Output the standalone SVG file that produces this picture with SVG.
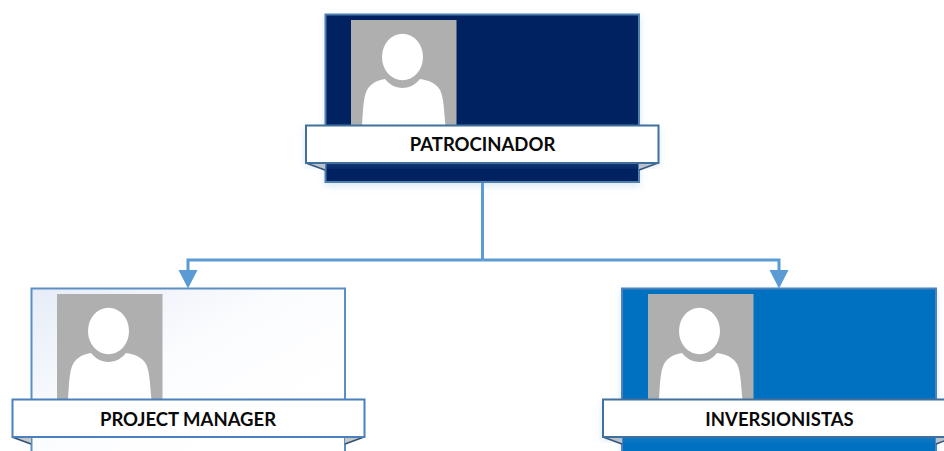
<svg xmlns="http://www.w3.org/2000/svg" width="944" height="451" viewBox="0 0 944 451">
<style>
.card{stroke-width:2}
.banner{fill:#fff;stroke-width:2}
.fold{fill:#c9c9c9;stroke:none}
.crease{stroke:#2f4f75;stroke-width:1.500;fill:none}
.label{font-family:"Lato","Liberation Sans",sans-serif;font-weight:700;font-size:18.500px;fill:#0a0a0a;text-anchor:middle}
.conn{fill:none;stroke:#5b9bd5;stroke-width:3}
</style>
<defs>
<linearGradient id="pale" x1="0" y1="0" x2="0.75" y2="0.75"><stop offset="0" stop-color="#e6ecf7"/><stop offset="0.55" stop-color="#fbfcfe"/><stop offset="1" stop-color="#fff"/></linearGradient>
<filter id="soft" x="-10%" y="-10%" width="120%" height="125%"><feDropShadow dx="0" dy="3" stdDeviation="3.500" flood-color="#5b9bd5" flood-opacity="0.220"/></filter>
<marker id="head" markerUnits="userSpaceOnUse" markerWidth="20" markerHeight="20" refX="3" refY="10" orient="auto"><path d="M0 0.500L18.500 10L0 19.500Z" fill="#5b9bd5"/></marker>
<g id="photo">
<rect width="105.500" height="105.500" fill="#afafaf"/>
<ellipse cx="51.500" cy="37" rx="20.500" ry="23.200" fill="#fff"/>
<path d="M11 105.500C12 92 12 78 16 70C20 63 27 60 34 59C38 64 44 68 51.500 68C59 68 65 64 69 59C77 60 85 63 89 70C93 78 93 92 94.500 105.500Z" fill="#fff"/>
</g>
</defs>
<g id="connectors">
<path class="conn" d="M482.500 182V260"/>
<path class="conn" d="M482.500 260H188V273" marker-end="url(#head)"/>
<path class="conn" d="M482.500 260H779V273" marker-end="url(#head)"/>
</g>
<g id="node-patrocinador">
<rect class="card" x="325.500" y="14.500" width="313.500" height="167.500" fill="#002060" stroke="#4f7fae" filter="url(#soft)"/>
<use href="#photo" x="351" y="20"/>
<path class="fold" d="M306 163L325 170V163Z"/><path class="crease" d="M306 163L325 170"/>
<path class="fold" d="M658 163L639 170V163Z"/><path class="crease" d="M658 163L639 170"/>
<rect class="banner" x="306" y="125.500" width="352.500" height="37.500" stroke="#41719c" filter="url(#soft)"/>
<text class="label" x="482.500" y="151">PATROCINADOR</text>
</g>
<g id="node-project-manager">
<rect class="card" x="31.500" y="288.500" width="313.500" height="180" fill="url(#pale)" stroke="#5b8fc5"/>
<use href="#photo" x="57" y="294"/>
<path class="fold" d="M12 437L31 444V437Z"/><path class="crease" d="M12 437L31 444"/>
<path class="fold" d="M364 437L345 444V437Z"/><path class="crease" d="M364 437L345 444"/>
<rect class="banner" x="12.500" y="399.500" width="352" height="37.500" stroke="#4a80bd"/>
<text class="label" x="188" y="425.500">PROJECT MANAGER</text>
</g>
<g id="node-inversionistas">
<rect class="card" x="622" y="288.500" width="314" height="180" fill="#0070c0" stroke="#4f81bd" filter="url(#soft)"/>
<use href="#photo" x="648" y="294"/>
<path class="fold" d="M603 437L622 444V437Z"/><path class="crease" d="M603 437L622 444"/>
<path class="fold" d="M955 437L936 444V437Z"/><path class="crease" d="M955 437L936 444"/>
<rect class="banner" x="603" y="399.500" width="352" height="37.500" stroke="#41719c" filter="url(#soft)"/>
<text class="label" x="779.500" y="425.500">INVERSIONISTAS</text>
</g>
</svg>
